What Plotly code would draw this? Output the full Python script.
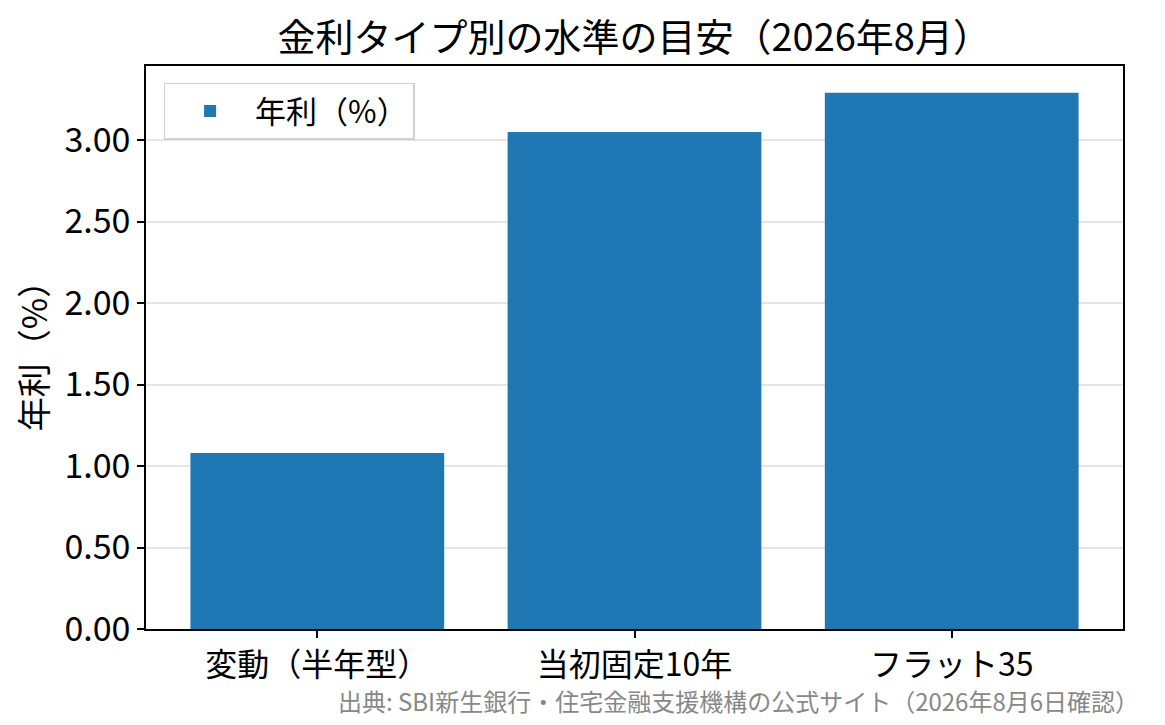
import plotly.graph_objects as go

categories = ["変動（半年型）", "当初固定10年", "フラット35"]
rates = [1.08, 3.05, 3.29]
y_ticks = [0.0, 0.5, 1.0, 1.5, 2.0, 2.5, 3.0]
y_tick_labels = ["0.00", "0.50", "1.00", "1.50", "2.00", "2.50", "3.00"]

title_text = "金利タイプ別の水準の目安（2026年8月）"
source_text = "出典: SBI新生銀行・住宅金融支援機構の公式サイト（2026年8月6日確認）"

FONT = "Noto Sans CJK JP, Noto Sans, sans-serif"
BLUE = "#1f77b4"

fig = go.Figure()
fig.add_trace(go.Bar(
    x=list(range(len(categories))),
    y=rates,
    width=0.8,
    name="年利（%）",
    marker=dict(color=BLUE, line=dict(width=0)),
    showlegend=True,
))

# page body adds ~8px offset, so the figure is a bit smaller than the window
fig.update_layout(
    width=1149,
    height=709,
    margin=dict(l=138, r=34, t=58, b=88),
    paper_bgcolor="white",
    plot_bgcolor="white",
    font=dict(family=FONT, size=34, color="black"),
    title=dict(
        text=title_text,
        x=0.545, xref="container", xanchor="center",
        y=0.958, yref="container", yanchor="middle",
        font=dict(size=38, color="black"),
    ),
    legend=dict(
        x=0.018, y=0.97, xanchor="left", yanchor="top",
        bgcolor="rgba(255,255,255,0.8)",
        bordercolor="#d0d0d0", borderwidth=1.5,
        font=dict(size=31),
        itemwidth=80,
    ),
    bargap=0.2,
)

fig.update_xaxes(
    range=[-0.54, 2.54],
    tickmode="array",
    tickvals=list(range(len(categories))),
    ticktext=categories,
    ticks="outside", ticklen=7, tickwidth=1.5, tickcolor="black",
    showline=True, linecolor="black", linewidth=1.5, mirror=True,
    showgrid=False, zeroline=False,
    tickfont=dict(size=32),
)

fig.update_yaxes(
    range=[0, 3.4545],
    tickmode="array",
    tickvals=y_ticks,
    ticktext=y_tick_labels,
    ticks="outside", ticklen=7, tickwidth=1.5, tickcolor="black",
    showline=True, linecolor="black", linewidth=1.5, mirror=True,
    showgrid=True, gridcolor="rgba(170,170,170,0.3)", gridwidth=1.5,
    zeroline=False,
    layer="above traces",
    title=dict(text="年利（%）", font=dict(size=34), standoff=14),
    tickfont=dict(size=34),
)

fig.add_annotation(
    text=source_text,
    xref="paper", yref="paper",
    x=1.018, y=-0.093, xanchor="right", yanchor="top",
    showarrow=False,
    font=dict(size=24, color="#888888"),
)

fig.write_html("out.html")
